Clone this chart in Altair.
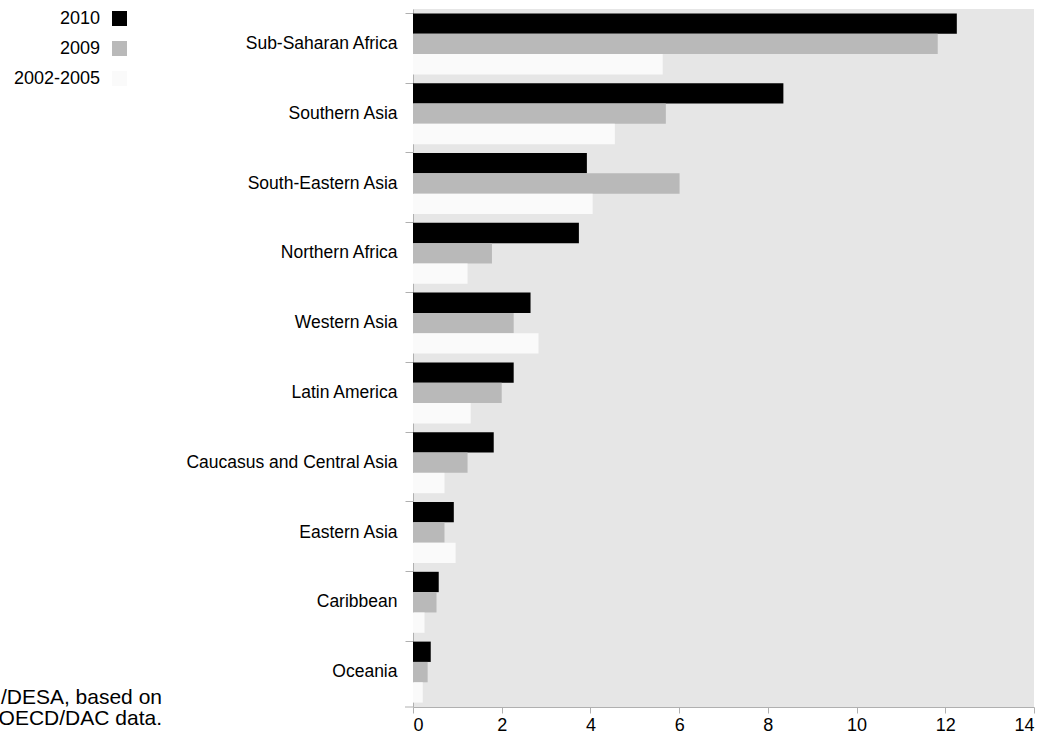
import altair as alt
import pandas as pd

# Regions, top to bottom
regions = [
    "Sub-Saharan Africa",
    "Southern Asia",
    "South-Eastern Asia",
    "Northern Africa",
    "Western Asia",
    "Latin America",
    "Caucasus and Central Asia",
    "Eastern Asia",
    "Caribbean",
    "Oceania",
]
series = ["2010", "2009", "2002-2005"]

v2010 = [12.26, 8.35, 3.92, 3.74, 2.65, 2.27, 1.82, 0.92, 0.58, 0.40]
v2009 = [11.83, 5.70, 6.01, 1.78, 2.27, 2.00, 1.23, 0.71, 0.53, 0.33]
v2002_2005 = [5.63, 4.55, 4.05, 1.23, 2.83, 1.30, 0.71, 0.96, 0.26, 0.22]

x_ticks = [0, 2, 4, 6, 8, 10, 12, 14]
source_lines = ["Source: UN/DESA, based on", "OECD/DAC data."]

colors = ["#000000", "#b9b9b9", "#fafafa"]
axis_gray = "#b0b0b0"
FONT = "Liberation Sans"

rows = []
for i, region in enumerate(regions):
    for name, vals in zip(series, [v2010, v2009, v2002_2005]):
        rows.append({"region": region, "series": name, "value": vals[i]})
df = pd.DataFrame(rows)

W, H = 621, 698
color_scale = alt.Scale(domain=series, range=colors)

bars = alt.Chart(df).mark_bar(strokeWidth=0).encode(
    x=alt.X(
        "value:Q",
        scale=alt.Scale(domain=[0, 14], nice=False),
        axis=alt.Axis(
            values=x_ticks,
            title=None,
            grid=False,
            tickSize=6,
            labelPadding=3,
            labelFontSize=18,
        ),
    ),
    y=alt.Y(
        "region:N",
        sort=regions,
        scale=alt.Scale(paddingInner=0.126, paddingOuter=0.063),
        axis=alt.Axis(
            title=None,
            bandPosition=0,
            tickSize=8,
            labelPadding=8,
            labelFontSize=17.5,
            labelLimit=400,
        ),
    ),
    yOffset=alt.YOffset("series:N", sort=series, scale=alt.Scale(paddingInner=0, paddingOuter=0)),
    color=alt.Color("series:N", scale=color_scale, legend=None),
)

# closing tick at the bottom edge of the category axis
end_tick = alt.Chart(pd.DataFrame({"k": [0]})).mark_rule(color=axis_gray, strokeWidth=1).encode(
    x=alt.value(-8), x2=alt.value(0), y=alt.value(H)
)

# key in the top-left corner, labels to the left of the swatches
legend_df = pd.DataFrame({"series": series})
leg_y = alt.Y(
    "series:N",
    sort=series,
    scale=alt.Scale(domain=series, range=[9.5, 69.5], padding=0),
    axis=None,
)
swatches = alt.Chart(legend_df).mark_square(size=225, opacity=1, strokeWidth=0).encode(
    x=alt.value(-293.5),
    y=leg_y,
    color=alt.Color("series:N", scale=color_scale, legend=None),
)
swatch_labels = alt.Chart(legend_df).mark_text(
    align="right", baseline="middle", fontSize=18, font=FONT, color="#000000"
).encode(x=alt.value(-313), y=leg_y, text="series:N")

source = alt.Chart(pd.DataFrame({"k": [0]})).mark_text(
    text=source_lines,
    align="right",
    baseline="alphabetic",
    fontSize=21,
    lineHeight=21,
    font=FONT,
    color="#000000",
).encode(x=alt.value(-251), y=alt.value(695))

chart = (
    alt.layer(bars, end_tick, swatches, swatch_labels, source)
    .resolve_scale(y="independent")
    .properties(
        width=W,
        height=H,
        autosize=alt.AutoSizeParams(type="none"),
        padding={"left": 413, "top": 9, "right": 9, "bottom": 29},
        background="#ffffff",
    )
    .configure_view(fill="#e6e6e6", strokeWidth=0)
    .configure_axis(
        domainColor=axis_gray,
        tickColor=axis_gray,
        labelColor="#000000",
        labelFont=FONT,
        domainWidth=1,
        tickWidth=1,
    )
)

chart.save("out.html", embed_options={"renderer": "svg", "actions": False})
